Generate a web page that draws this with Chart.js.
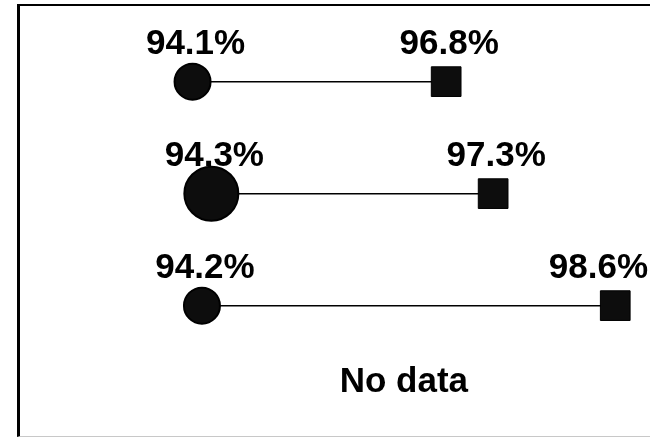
<!DOCTYPE html>
<html>
<head>
<meta charset="utf-8">
<script src="https://cdn.jsdelivr.net/npm/chart.js@4.4.1/dist/chart.umd.min.js"></script>
<style>
    body { margin: 0; background: #fff; }
    .wrap { position: relative; width: 650px; height: 438px; overflow: hidden; }
    .frame {
        position: absolute;
        left: 17px;
        top: 4px;
        width: 650px;
        height: 430px;
        border-left: 3px solid #000;
        border-top: 2px solid #000;
        border-bottom: 1px solid #c8c8c8;
    }
    canvas { position: absolute; left: 0; top: 0; }
</style>
</head>
<body>
<div class="wrap">
    <div class="frame"></div>
    <canvas id="dumbbell" width="650" height="438"></canvas>
</div>
<script>
    // rows of the chart, top to bottom (last one has no data)
    const rows = ["Row 1", "Row 2", "Row 3", "Row 4"];
    const before = [94.1, 94.3, 94.2, null];
    const after = [96.8, 97.3, 98.6, null];

    // marker sizes (the middle circle is drawn larger in the original)
    const circleRadius = [18, 27, 18, 0];
    const LABEL_FONT = "bold 35px 'Liberation Sans', Arial, sans-serif";

    const datasets = rows.map((name, i) => ({
        label: name,
        data: before[i] == null ? [] : [
            { x: before[i], y: i },
            { x: after[i], y: i },
        ],
        borderColor: "#000",
        borderWidth: 1.5,
        backgroundColor: "#0d0d0d",
        pointBorderColor: "#000",
        pointBorderWidth: [2, 1],
        pointStyle: ["circle", "rect"],
        pointRadius: [circleRadius[i], 21],
        showLine: true,
        clip: false,
    }));

    // value labels above the markers, "No data" for empty rows
    const labelPlugin = {
        id: "valueLabels",
        afterDatasetsDraw(chart) {
            const ctx = chart.ctx;
            const xs = chart.scales.x;
            const ys = chart.scales.y;
            ctx.save();
            ctx.font = LABEL_FONT;
            ctx.fillStyle = "#000";
            ctx.textAlign = "center";
            ctx.textBaseline = "alphabetic";
            chart.data.datasets.forEach((ds, i) => {
                const meta = chart.getDatasetMeta(i);
                if (ds.data.length === 0) {
                    const vals = before.concat(after).filter((v) => v != null);
                    const mid = (Math.min(...vals) + Math.max(...vals)) / 2;
                    ctx.fillText("No data", xs.getPixelForValue(mid), ys.getPixelForValue(i) - 26);
                    return;
                }
                meta.data.forEach((pt, j) => {
                    const text = ds.data[j].x.toFixed(1) + "%";
                    const w = ctx.measureText(text).width;
                    let x = pt.x + 3;
                    x = Math.min(x, chart.width - w / 2 - 2);
                    ctx.fillText(text, x, pt.y - 28);
                });
            });
            ctx.restore();
        },
    };

    new Chart(document.getElementById("dumbbell"), {
        type: "scatter",
        data: { datasets: datasets },
        options: {
            responsive: false,
            animation: false,
            devicePixelRatio: 1,
            layout: { padding: 0, autoPadding: false },
            plugins: {
                legend: { display: false },
                tooltip: { enabled: false },
            },
            scales: {
                x: {
                    type: "linear",
                    display: false,
                    min: 92.05,
                    max: 98.97,
                },
                y: {
                    type: "linear",
                    display: false,
                    reverse: true,
                    min: -0.729,
                    max: 3.182,
                },
            },
        },
        plugins: [labelPlugin],
    });
</script>
</body>
</html>
